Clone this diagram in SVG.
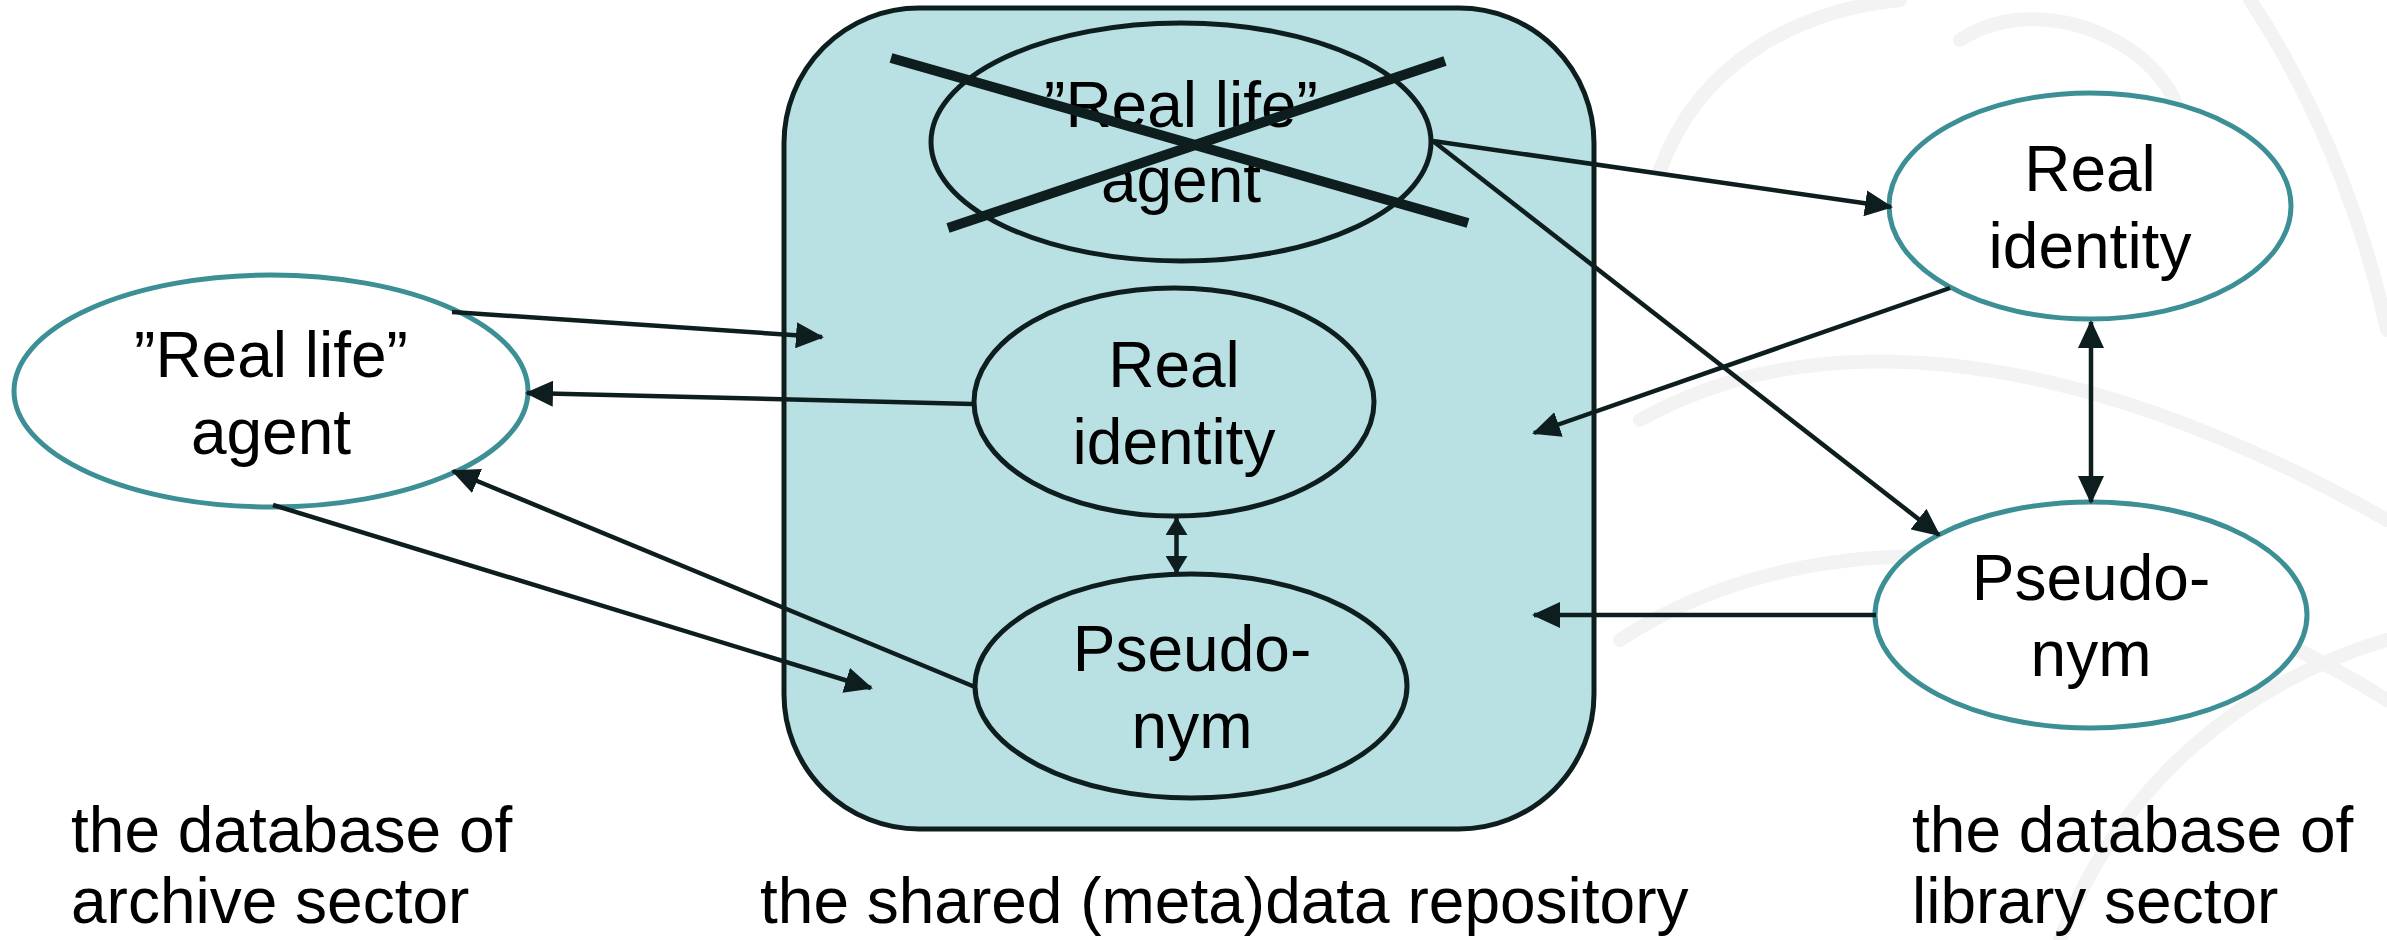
<svg xmlns="http://www.w3.org/2000/svg" width="2387" height="940" viewBox="0 0 2387 940">
<style>
.bg{fill:none;stroke:#f3f3f3;stroke-width:14;stroke-linecap:round}
.box{fill:#b9e0e3;stroke:#0e1e1e;stroke-width:5}
.inner{fill:#b9e0e3;stroke:#0e1e1e;stroke-width:5}
.outer{fill:#ffffff;stroke:#3d8f96;stroke-width:5}
.lbl{font-family:"Liberation Sans",Arial,sans-serif;font-size:64px;fill:#000000}
.c{text-anchor:middle}
.con{fill:none;stroke:#0e1e1e;stroke-width:4.5}
.cross{stroke:#0e1e1e;stroke-width:10;stroke-linecap:butt}
</style>
<defs>
<marker id="ah" viewBox="0 0 28 26" markerWidth="28" markerHeight="26" refX="26" refY="13" markerUnits="userSpaceOnUse" orient="auto-start-reverse">
<path d="M0,0 L28,13 L0,26 z" fill="#0e1e1e"/>
</marker>
<marker id="ahs" viewBox="0 0 18 22" markerWidth="18" markerHeight="22" refX="17" refY="11" markerUnits="userSpaceOnUse" orient="auto-start-reverse">
<path d="M0,0 L18,11 L0,22 z" fill="#0e1e1e"/>
</marker>
</defs>
<rect width="2387" height="940" fill="#ffffff"/>
<g id="background">
<path class="bg" d="M1960,40 C2050,-20 2200,60 2180,150 C2160,240 2020,250 1990,170 C1970,110 2060,80 2100,120"/>
<path class="bg" d="M1640,420 C1800,330 2050,330 2387,520"/>
<path class="bg" d="M1620,640 C1800,520 2100,520 2387,700"/>
<path class="bg" d="M2060,940 C2120,780 2250,680 2387,640"/>
<path class="bg" d="M1660,170 C1700,60 1800,10 1900,0"/>
<path class="bg" d="M2250,0 C2330,120 2370,250 2387,330"/>
</g>
<g id="repository">
<rect class="box" x="784" y="8" width="810" height="821" rx="135" ry="135"/>
</g>
<g id="repo-agent">
<ellipse class="inner" cx="1181" cy="142" rx="250" ry="119"/>
<text class="lbl c" x="1181" y="127">”Real life”</text>
<text class="lbl c" x="1181" y="202">agent</text>
</g>
<g id="repo-real-identity">
<ellipse class="inner" cx="1174" cy="402" rx="200" ry="114"/>
<text class="lbl c" x="1174" y="387">Real</text>
<text class="lbl c" x="1174" y="464">identity</text>
</g>
<g id="repo-pseudonym">
<ellipse class="inner" cx="1191" cy="686" rx="216" ry="112"/>
<text class="lbl c" x="1192" y="671">Pseudo-</text>
<text class="lbl c" x="1192" y="748">nym</text>
</g>
<g id="archive-agent">
<ellipse class="outer" cx="271" cy="391" rx="257" ry="116"/>
<text class="lbl c" x="271" y="377">”Real life”</text>
<text class="lbl c" x="271" y="454">agent</text>
</g>
<g id="library-real-identity">
<ellipse class="outer" cx="2090" cy="206" rx="201" ry="113"/>
<text class="lbl c" x="2090" y="191">Real</text>
<text class="lbl c" x="2090" y="268">identity</text>
</g>
<g id="library-pseudonym">
<ellipse class="outer" cx="2091" cy="615" rx="216" ry="113"/>
<text class="lbl c" x="2091" y="600">Pseudo-</text>
<text class="lbl c" x="2091" y="676">nym</text>
</g>
<g id="connectors">
<line class="con" x1="452" y1="312" x2="822" y2="337" marker-end="url(#ah)"/>
<line class="con" x1="973" y1="404" x2="527" y2="393" marker-end="url(#ah)"/>
<line class="con" x1="975" y1="687" x2="453" y2="471" marker-end="url(#ah)"/>
<line class="con" x1="273" y1="505" x2="871" y2="688" marker-end="url(#ah)"/>
<line class="con" x1="1433" y1="141" x2="1891" y2="207" marker-end="url(#ah)"/>
<line class="con" x1="1433" y1="141" x2="1939" y2="535" marker-end="url(#ah)"/>
<line class="con" x1="1950" y1="288" x2="1534" y2="433" marker-end="url(#ah)"/>
<line class="con" x1="1876" y1="615" x2="1534" y2="615" marker-end="url(#ah)"/>
<line class="con" x1="1176.5" y1="518" x2="1176.5" y2="573" marker-start="url(#ahs)" marker-end="url(#ahs)"/>
<line class="con" x1="2091" y1="322" x2="2091" y2="502" marker-start="url(#ah)" marker-end="url(#ah)"/>
</g>
<g id="cross">
<line class="cross" x1="891" y1="58" x2="1468" y2="223"/>
<line class="cross" x1="948" y1="228" x2="1445" y2="61"/>
</g>
<g id="labels">
<text class="lbl" x="71" y="852">the database of</text>
<text class="lbl" x="71" y="923">archive sector</text>
<text class="lbl" x="760" y="923">the shared (meta)data repository</text>
<text class="lbl" x="1912" y="852">the database of</text>
<text class="lbl" x="1912" y="923">library sector</text>
</g>
</svg>
